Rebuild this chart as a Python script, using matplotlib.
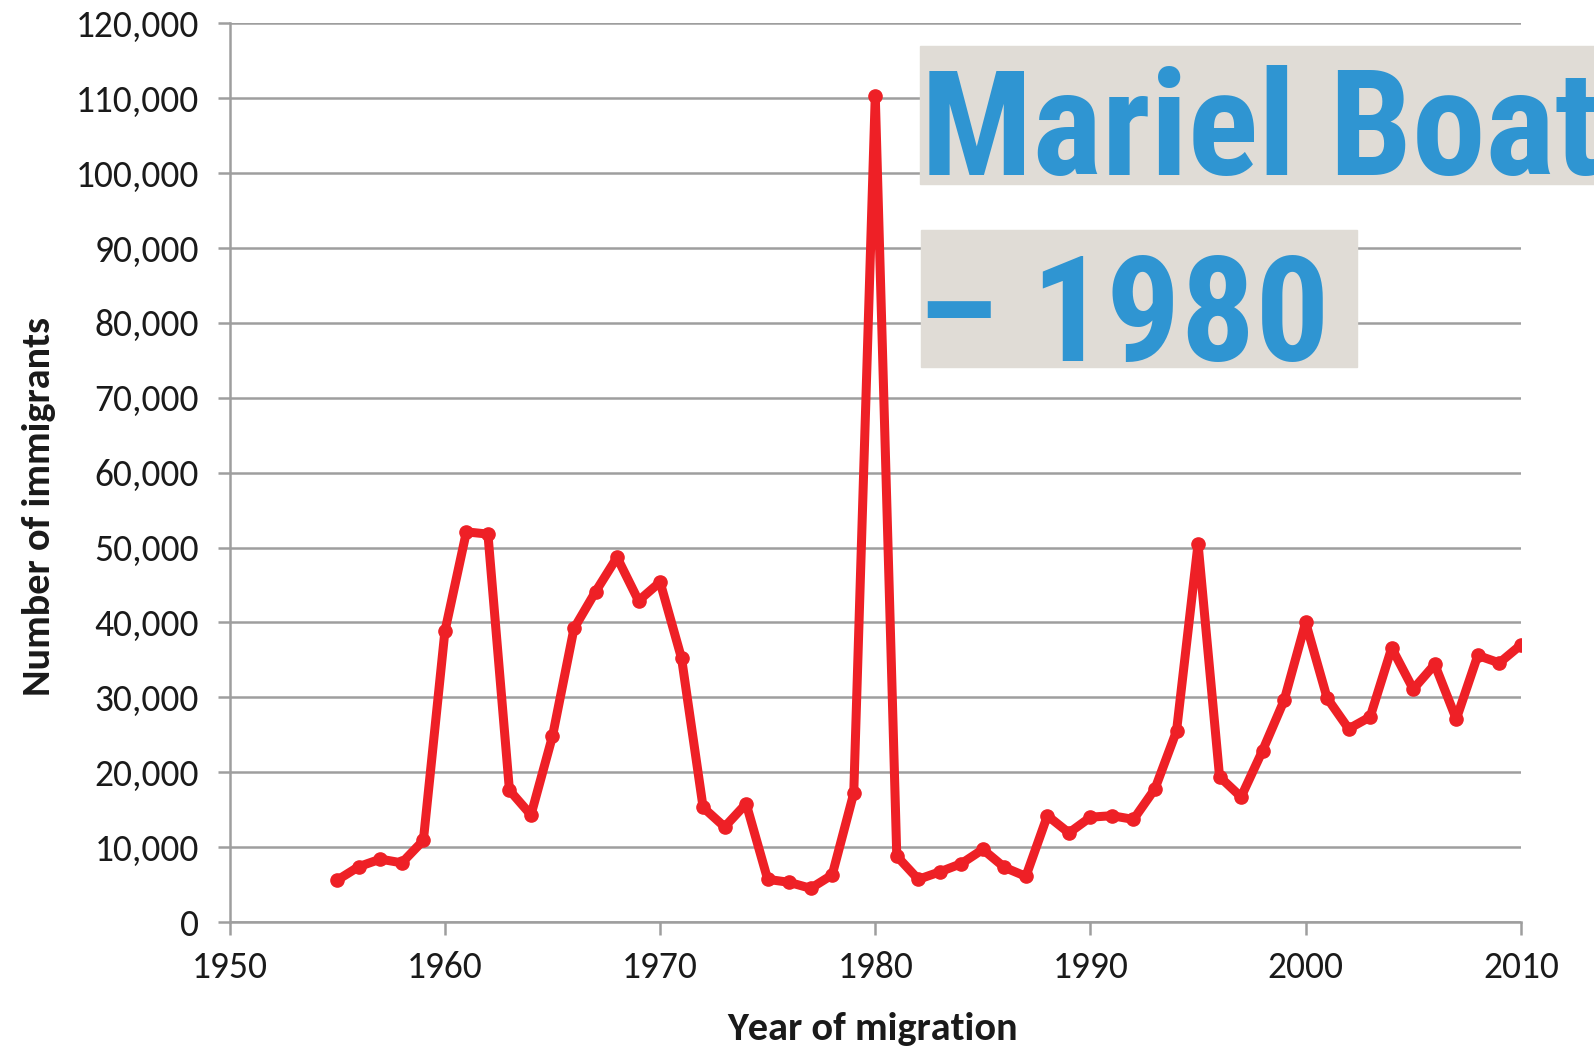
import matplotlib
matplotlib.use('Agg')
import matplotlib.pyplot as plt
import matplotlib.font_manager as fm
from matplotlib.patches import Rectangle
from matplotlib.ticker import FuncFormatter
import numpy as np

# data
years = np.arange(1955, 2011)
immigrants = [
    5600, 7400, 8400, 7900, 10900, 38800, 52100, 51800, 17600, 14300,    # 1955-1964
    24800, 39200, 44100, 48700, 42900, 45400, 35200, 15300, 12700, 15800,  # 1965-1974
    5700, 5300, 4500, 6300, 17200, 110300, 8800, 5700, 6700, 7800,        # 1975-1984
    9700, 7300, 6100, 14200, 11900, 14000, 14200, 13700, 17800, 25500,    # 1985-1994
    50500, 19400, 16700, 22900, 29600, 40000, 29900, 25800, 27400, 36600,  # 1995-2004
    31100, 34400, 27100, 35600, 34600, 37000,                             # 2005-2010
]
x_ticks = [1950, 1960, 1970, 1980, 1990, 2000, 2010]
y_ticks = list(range(0, 120001, 10000))
title_lines = ['Mariel Boat', '\u2013 1980']

names = {f.name for f in fm.fontManager.ttflist}

def pick(cands):
    for c in cands:
        if c in names:
            return c
    return 'DejaVu Sans'

body_font = pick(['Carlito', 'Open Sans', 'Lato'])
title_font = pick(['Liberation Sans Narrow', 'Roboto Condensed', 'DejaVu Sans'])

grid_col = '#9e9e9e'
red = '#ee2026'
blue = '#2f95d2'
box_col = '#e0dcd6'

fig = plt.figure(figsize=(15.94, 10.48), dpi=100)
ax = fig.add_axes([0.1441, 0.1202, 0.81, 0.8575])

ax.plot(years, immigrants, color=red, lw=6.5, marker='o', ms=9.5,
        solid_joinstyle='round', zorder=3)

ax.set_xlim(1950, 2010)
ax.set_ylim(0, 120000)
ax.set_xticks(x_ticks)
ax.set_yticks(y_ticks)
ax.yaxis.set_major_formatter(FuncFormatter(lambda v, p: f'{int(v):,}'))
ax.grid(axis='y', color=grid_col, lw=1.8)
ax.set_axisbelow(True)

for s in ['top', 'right']:
    ax.spines[s].set_visible(False)
for s in ['left', 'bottom']:
    ax.spines[s].set_color(grid_col)
    ax.spines[s].set_linewidth(1.8)

ax.tick_params(axis='both', colors=grid_col, width=1.8, length=9,
               labelcolor='#1a1a1a', labelsize=27)
ax.tick_params(axis='y', pad=13)
ax.tick_params(axis='x', pad=12)
for lab in ax.get_xticklabels() + ax.get_yticklabels():
    lab.set_fontfamily(body_font)

ax.set_ylabel('Number of immigrants', fontsize=29, fontweight='bold',
              family=body_font, color='#1a1a1a', va='center')
ax.yaxis.set_label_coords(-0.1477, 0.4624)
ax.set_xlabel('Year of migration', fontsize=29, fontweight='bold',
              family=body_font, color='#1a1a1a', va='center')
ax.xaxis.set_label_coords(0.498, -0.119)

# highlighted title boxes (text runs off the right edge, as in the original)
fig.patches.append(Rectangle((0.5772, 0.8244), 0.43, 0.1316,
                             transform=fig.transFigure, color=box_col, zorder=5))
fig.patches.append(Rectangle((0.5778, 0.6498), 0.2735, 0.1307,
                             transform=fig.transFigure, color=box_col, zorder=5))
fig.text(0.5778, 0.833, title_lines[0], fontsize=106, fontweight='bold',
         family=title_font, color=blue, va='baseline', ha='left', zorder=6)
fig.text(0.575, 0.6555, title_lines[1], fontsize=106, fontweight='bold',
         family=title_font, color=blue, va='baseline', ha='left', zorder=6)

fig.savefig('out.png', dpi=100)
